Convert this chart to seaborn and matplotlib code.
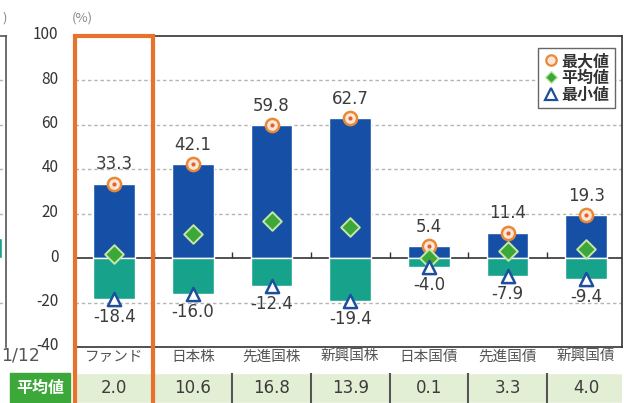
import numpy as np
import matplotlib.pyplot as plt
import seaborn as sns
from matplotlib.lines import Line2D
from matplotlib.patches import Rectangle
from matplotlib.transforms import ScaledTranslation

# データ
categories = ["ファンド", "日本株", "先進国株", "新興国株", "日本国債", "先進国債", "新興国債"]
max_vals = [33.3, 42.1, 59.8, 62.7, 5.4, 11.4, 19.3]
avg_vals = [2.0, 10.6, 16.8, 13.9, 0.1, 3.3, 4.0]
min_vals = [-18.4, -16.0, -12.4, -19.4, -4.0, -7.9, -9.4]
yticks = [-40, -20, 0, 20, 40, 60, 80, 100]
grid_vals = [-20, 20, 40, 60, 80]
left_panel_vals = [9.0]   # 左隣のグラフの端（切れている部分）

BLUE = "#1550a6"
TEAL = "#17a38b"
ORANGE = "#e8712b"
GREEN = "#3da83a"
CELL = "#e3efd5"
TXT = "#3c3c3c"

sns.set_theme(style="white")
plt.rcParams["font.family"] = ["Noto Sans CJK JP", "DejaVu Sans"]
plt.rcParams["axes.unicode_minus"] = False

W, H = 624, 403
fx = lambda px: px / W
fy = lambda py: 1 - py / H

fig = plt.figure(figsize=(6.24, 4.03), dpi=100)

# ============================================================================
# メインのグラフ
# ============================================================================
ax = fig.add_axes([fx(75), fy(347), fx(547), (347 - 35.5) / H])
n = len(categories)

for g in grid_vals:
    ax.axhline(g, color="#b5b5b5", lw=1, ls=(0, (2.5, 2)), zorder=0)
ax.axhline(0, color="#333333", lw=1.2, zorder=1)

sns.barplot(x=categories, y=max_vals, color=BLUE, saturation=1, width=0.53, ax=ax, zorder=2)
sns.barplot(x=categories, y=min_vals, color=TEAL, saturation=1, width=0.53, ax=ax, zorder=2)

# 区切りの小さい目盛
ax.vlines(np.arange(n - 1) + 0.5, 0, 2.5, color="#333333", lw=1, zorder=1)

# マーカー
sns.stripplot(x=categories, y=max_vals, jitter=False, marker="o", size=9.5,
              color="#fde6d3", edgecolor="#e8893a", linewidth=1.8, ax=ax, zorder=4)
sns.stripplot(x=categories, y=max_vals, jitter=False, marker="o", size=3,
              color="#e0603a", linewidth=0, ax=ax, zorder=5)
sns.stripplot(x=categories, y=avg_vals, jitter=False, marker="D", size=9.5,
              color=GREEN, edgecolor="#c8e6a8", linewidth=1.4, ax=ax, zorder=4)
sns.stripplot(x=categories, y=min_vals, jitter=False, marker="^", size=9.5,
              color="white", edgecolor="#1e4f9c", linewidth=1.8, ax=ax, zorder=4)

for i, (mx, mn) in enumerate(zip(max_vals, min_vals)):
    ax.annotate(f"{mx:.1f}", (i, mx), xytext=(0, 14), textcoords="offset points",
                ha="center", va="center", fontsize=12, color=TXT, family="DejaVu Sans")
    ax.annotate(f"{mn:.1f}", (i, mn), xytext=(0, -13), textcoords="offset points",
                ha="center", va="center", fontsize=12, color=TXT, family="DejaVu Sans")

ax.set_xlim(-0.5, 6.455)
ax.set_ylim(-40, 100)
ax.set_yticks(yticks)
ax.set_xlabel("")
ax.set_ylabel("")
ax.tick_params(axis="y", length=0, pad=12, labelsize=11, labelcolor="#333333")
ax.tick_params(axis="x", length=0, pad=2, labelsize=10.5, labelcolor="#555555")
shift = ScaledTranslation(0, 3 / 100, fig.dpi_scale_trans)
for lab in ax.get_yticklabels():
    lab.set_transform(lab.get_transform() + shift)
ax.spines["left"].set_visible(False)
for s in ["top", "right", "bottom"]:
    ax.spines[s].set_color("#333333")
    ax.spines[s].set_linewidth(1.2)

handles = [
    Line2D([], [], marker="o", ls="none", ms=7.5, mfc="#fde6d3", mec="#e8893a", mew=1.6),
    Line2D([], [], marker="D", ls="none", ms=6.5, mfc=GREEN, mec="#c8e6a8", mew=1),
    Line2D([], [], marker="^", ls="none", ms=8, mfc="white", mec="#1e4f9c", mew=1.6),
]
leg = ax.legend(handles, ["最大値", "平均値", "最小値"], loc="upper right",
                bbox_to_anchor=(1 - 7 / 547, 1 - 12 / 311.5), borderaxespad=0,
                prop={"family": "Noto Sans CJK JP", "weight": "bold", "size": 11.5},
                handlelength=0.9, handletextpad=0.2, labelspacing=0.05, borderpad=0.35,
                fancybox=False, framealpha=1, edgecolor="#666666", labelcolor="#333333")
leg.get_frame().set_linewidth(1)

fig.text(fx(82), fy(18), "(%)", ha="center", va="center", fontsize=9.5, color="#888888")

# ============================================================================
# 左隣のグラフの端
# ============================================================================
axl = fig.add_axes([fx(-126), fy(347), fx(132), (347 - 35.5) / H])
for g in grid_vals:
    axl.axhline(g, color="#b5b5b5", lw=1, ls=(0, (2.5, 2)), zorder=0)
axl.bar([0], left_panel_vals, width=0.6, color=TEAL, zorder=2)
axl.set_xlim(-4, 0.45)
axl.set_ylim(-40, 100)
axl.set_xticks([])
axl.set_yticks([])
for s in ["left", "bottom"]:
    axl.spines[s].set_visible(False)
for s in ["top", "right"]:
    axl.spines[s].set_color("#555555")
    axl.spines[s].set_linewidth(1.2)
fig.text(fx(2), fy(18), ")", ha="left", va="center", fontsize=9.5, color="#888888")
fig.text(fx(1), fy(356), "1/12", ha="left", va="center", fontsize=12.5, color="#555555",
         family="DejaVu Sans")

# ============================================================================
# 平均値の表
# ============================================================================
axt = fig.add_axes([fx(75), 0, fx(547), (403 - 373) / H])
axt.bar(np.arange(n), [1] * n, width=1, color=CELL, zorder=1)
axt.vlines(np.arange(n - 1) + 0.5, 0, 1, color="#555555", lw=1.5, zorder=2)
for i, v in enumerate(avg_vals):
    axt.text(i, 0.5, f"{v:.1f}", ha="center", va="center", fontsize=12,
             color=TXT, family="DejaVu Sans")
axt.set_xlim(-0.5, 6.455)
axt.set_ylim(0, 1)
axt.axis("off")

fig.add_artist(Rectangle((fx(10), 0), fx(60), (403 - 373) / H,
                         transform=fig.transFigure, color=GREEN, zorder=3))
fig.text(fx(40), fy(388), "平均値", ha="center", va="center", fontsize=11.5,
         color="white", weight="bold", zorder=4)

# ファンドを囲むオレンジの枠
fig.add_artist(Rectangle((fx(75), fy(412)), fx(153 - 75), (412 - 36) / H,
                         transform=fig.transFigure, fill=False, edgecolor=ORANGE,
                         lw=3, zorder=10))

fig.savefig("out.png", dpi=100)
